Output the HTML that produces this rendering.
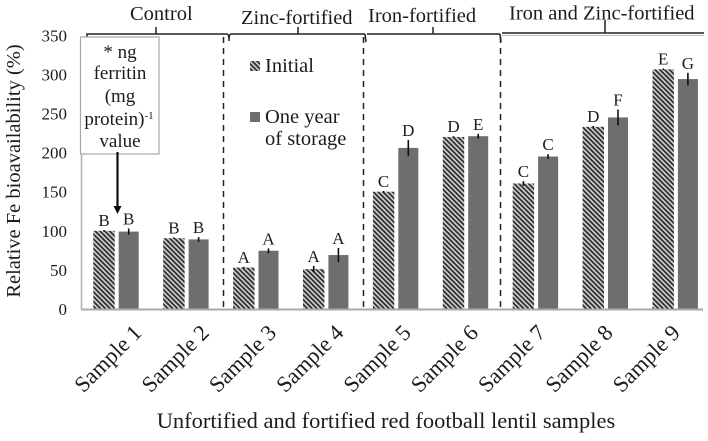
<!DOCTYPE html>
<html>
<head>
<meta charset="utf-8">
<style>
html,body{margin:0;padding:0;background:#fff;width:708px;height:441px;overflow:hidden}
svg{display:block;font-family:"Liberation Serif",serif;fill:#1c1c1c}
</style>
</head>
<body>
<svg id="chart" width="708" height="441" viewBox="0 0 708 441" xmlns="http://www.w3.org/2000/svg">
<defs>
<pattern id="hatch" patternUnits="userSpaceOnUse" width="3.4" height="3.4" patternTransform="rotate(45)">
<rect width="3.4" height="3.4" fill="#d4d4d4"></rect>
<rect width="3.4" height="1.8" fill="#2e2e2e"></rect>
</pattern>
<filter id="soft"><feGaussianBlur stdDeviation="0.35"></feGaussianBlur></filter>
</defs>
<g id="root" filter="url(#soft)">
<text x="130" y="20" font-size="20.500">Control</text>
<text x="241" y="24" font-size="20.500">Zinc-fortified</text>
<text x="368" y="22" font-size="20.500">Iron-fortified</text>
<text x="509" y="19.500" font-size="20.500">Iron and Zinc-fortified</text>
<path d="M87 41 L87 34 L227 34 M156 34 L156 27 M227 34 Q229 34 229 41 M229 41 Q229 34 231 34 L365 34 M298 34 L298 27 M365 34 L366 42 M367 34 L500 34 M433 34 L433 27 M500 34 L501 42 M502 33 L704 33 M605 33 L605 20" fill="none" stroke="#222" stroke-width="1.5"></path>
<line x1="502" y1="35.5" x2="704" y2="35.5" stroke="#bbb" stroke-width="1"></line>
<line x1="223.500" y1="37" x2="223.500" y2="308" stroke="#222" stroke-width="1.5" stroke-dasharray="6 5"></line>
<line x1="363.500" y1="37" x2="363.500" y2="308" stroke="#222" stroke-width="1.5" stroke-dasharray="6 5"></line>
<line x1="500.500" y1="37" x2="500.500" y2="308" stroke="#222" stroke-width="1.5" stroke-dasharray="6 5"></line>
<g id="marks"></g>
<line x1="81.500" y1="150" x2="81.500" y2="309" stroke="#b0b0b0" stroke-width="1.5"></line>
<line x1="81" y1="309.500" x2="703" y2="309.500" stroke="#a8a8a8" stroke-width="2"></line>
<g id="axes"></g>
<text transform="translate(20,171) rotate(-90)" text-anchor="middle" font-size="20.500">Relative Fe bioavailability (%)</text>
<text x="386" y="428" text-anchor="middle" font-size="22.500">Unfortified and fortified red football lentil samples</text>
<g>
<rect x="80.500" y="37" width="78.500" height="117" fill="#fff" stroke="#a8a8a8" stroke-width="1.2"></rect>
<text x="120" y="58" text-anchor="middle" font-size="19">* ng</text>
<text x="120" y="79" text-anchor="middle" font-size="19">ferritin</text>
<text x="120" y="102" text-anchor="middle" font-size="19">(mg</text>
<text x="119" y="125" text-anchor="middle" font-size="19">protein)<tspan font-size="11" dy="-6">-1</tspan></text>
<text x="120" y="147" text-anchor="middle" font-size="19">value</text>
<line x1="117.500" y1="152" x2="117.500" y2="208" stroke="#111" stroke-width="2.2"></line>
<polygon points="113.500,206 121.500,206 117.500,214" fill="#111"></polygon>
</g>
<g>
<rect x="250" y="61" width="10" height="10" fill="url(#hatch)"></rect>
<text x="265" y="72" font-size="20.500">Initial</text>
<rect x="250" y="112" width="10" height="10" fill="#6e6e6e"></rect>
<text x="265" y="123" font-size="20.500">One year</text>
<text x="265" y="145" font-size="20.500">of storage</text>
</g>
</g>
<script>
const categories = ["Sample 1","Sample 2","Sample 3","Sample 4","Sample 5","Sample 6","Sample 7","Sample 8","Sample 9"];
const initialValues = [100,90.5,53,51,150,220,160.5,233,306.5];
const storageValues = [99,89,74.5,69,206,221,195,245,294];
const initialErrors = [1,1,1,4,1,1,3,1,1];
const storageErrors = [4,3,3,9,10,3,3,10,8];
const initialLetters = ["B","B","A","A","C","D","C","D","E"];
const storageLetters = ["B","B","A","A","D","E","C","F","G"];
const yTicks = [0,50,100,150,200,250,300,350];

const NS = "http://www.w3.org/2000/svg";
const yScale = v => 309 - v * 0.782;
const xScale = i => 116 + i * 69.9;
const labelScale = i => 143 + i * 67.3;
const marks = document.getElementById("marks");
const axes = document.getElementById("axes");

function make(parent, tag, attrs, text) {
  const el = document.createElementNS(NS, tag);
  for (const k in attrs) el.setAttribute(k, attrs[k]);
  if (text !== undefined) el.textContent = text;
  parent.appendChild(el);
  return el;
}

function drawSeries(values, errors, letters, offset, width, fill, seriesName) {
  values.forEach((v, i) => {
    const left = xScale(i) + offset;
    const mid = left + width / 2;
    const bar = make(marks, "rect", {x: left, y: yScale(v), width: width, height: yScale(0) - yScale(v), fill: fill});
    
    
    const err = make(marks, "line", {x1: mid, x2: mid, y1: yScale(v + errors[i]), y2: yScale(v - errors[i]), stroke: "#111", "stroke-width": 1.6});
    
    
    const label = make(marks, "text", {x: mid, y: yScale(v + errors[i]) - 4, "text-anchor": "middle", "font-size": 17}, letters[i]);
    
    
  });
}

drawSeries(initialValues, initialErrors, initialLetters, -22.7, 21.4, "url(#hatch)", "initial");
drawSeries(storageValues, storageErrors, storageLetters, 2.7, 20, "#6e6e6e", "storage");

yTicks.forEach(t => {
  const tick = make(axes, "text", {x: 67, y: yScale(t) + 6, "text-anchor": "end", "font-size": 17}, t);
  
  
});

categories.forEach((c, i) => {
  const cat = make(axes, "text", {transform: "translate(" + labelScale(i) + ",334) rotate(-45)", "text-anchor": "end", "font-size": 22.5}, c);
  
  
});
</script>
</svg>
</body>
</html>
